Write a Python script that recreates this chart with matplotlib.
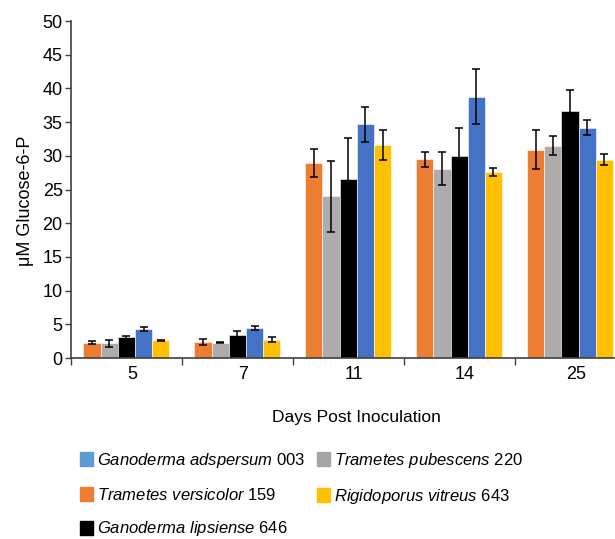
import numpy as np
import matplotlib.pyplot as plt
from matplotlib.patches import Patch
from matplotlib.transforms import ScaledTranslation

plt.rcParams["font.family"] = ["Liberation Sans", "DejaVu Sans"]
plt.rcParams["mathtext.fontset"] = "custom"
plt.rcParams["mathtext.it"] = "Liberation Sans:italic"
plt.rcParams["mathtext.rm"] = "Liberation Sans"

# data
days = ["5", "7", "11", "14", "25"]
versicolor = [2.3, 2.4, 28.9, 29.5, 30.9]
versicolor_err = [0.2, 0.4, 2.05, 1.1, 2.9]
pubescens = [2.2, 2.3, 24.0, 28.1, 31.5]
pubescens_err = [0.5, 0.12, 5.3, 2.4, 1.4]
lipsiense = [3.05, 3.45, 26.6, 30.0, 36.6]
lipsiense_err = [0.25, 0.6, 6.1, 4.1, 3.1]
adspersum = [4.3, 4.45, 34.7, 38.8, 34.2]
adspersum_err = [0.35, 0.35, 2.6, 4.1, 1.05]
vitreus = [2.6, 2.7, 31.6, 27.6, 29.4]
vitreus_err = [0.1, 0.35, 2.25, 0.55, 0.8]

series = [
    (versicolor, versicolor_err, "#ED7D31"),
    (pubescens, pubescens_err, "#AFABAB"),
    (lipsiense, lipsiense_err, "#000000"),
    (adspersum, adspersum_err, "#4472C4"),
    (vitreus, vitreus_err, "#FFC000"),
]

fig = plt.figure(figsize=(6.15, 5.39), dpi=100)
ax = fig.add_axes([0.1154, 0.3358, 0.9016, 0.6252])

x = np.arange(len(days))
width = 0.155
for i, (vals, errs, col) in enumerate(series):
    ax.bar(x + (i - 2) * width, vals, width, color=col, edgecolor="white",
           linewidth=0.4, yerr=errs, capsize=2.6,
           error_kw=dict(ecolor="black", elinewidth=1.1, capthick=1.1))

ax.set_xlim(-0.5, len(days) - 0.5)
ax.set_ylim(0, 50)
ax.set_yticks(np.arange(0, 51, 5))
ax.set_xticks(x)
ax.set_xticklabels(days)
ax.set_xticks(np.arange(-0.5, len(days) - 0.5, 1), minor=True)
ax.tick_params(axis="x", which="major", length=0, labelsize=13, pad=6)
ax.tick_params(axis="x", which="minor", length=5, width=1, color="#404040")
ax.tick_params(axis="y", length=4, width=1, labelsize=13, pad=2, color="#404040")
for lab in ax.get_xticklabels():
    lab.set_transform(lab.get_transform() + ScaledTranslation(0.06, 0, fig.dpi_scale_trans))
for s in ["top", "right"]:
    ax.spines[s].set_visible(False)
for s in ["left", "bottom"]:
    ax.spines[s].set_color("#404040")
    ax.spines[s].set_linewidth(1.2)

ax.set_ylabel("μM Glucose-6-P", fontsize=13)
ax.yaxis.set_label_coords(-0.066, 0.466)
fig.text(0.579, 0.226, "Days Post Inoculation", fontsize=12.5, ha="center", va="center")

handles = [
    Patch(color="#5B9BD5"), Patch(color="#ED7D31"), Patch(color="#000000"),
    Patch(color="#A5A5A5"), Patch(color="#FFC000"),
]
labels = [
    r"$\it{Ganoderma\ adspersum}$ 003",
    r"$\it{Trametes\ versicolor}$ 159",
    r"$\it{Ganoderma\ lipsiense}$ 646",
    r"$\it{Trametes\ pubescens}$ 220",
    r"$\it{Rigidoporus\ vitreus}$ 643",
]
fig.legend(handles, labels, ncol=2, frameon=False, loc="upper left",
           bbox_to_anchor=(0.130, 0.163), fontsize=12, handlelength=0.8,
           handleheight=0.9, handletextpad=0.25, labelspacing=1.0,
           columnspacing=0.65, borderaxespad=0, borderpad=0)

fig.savefig("out.png", dpi=100)
